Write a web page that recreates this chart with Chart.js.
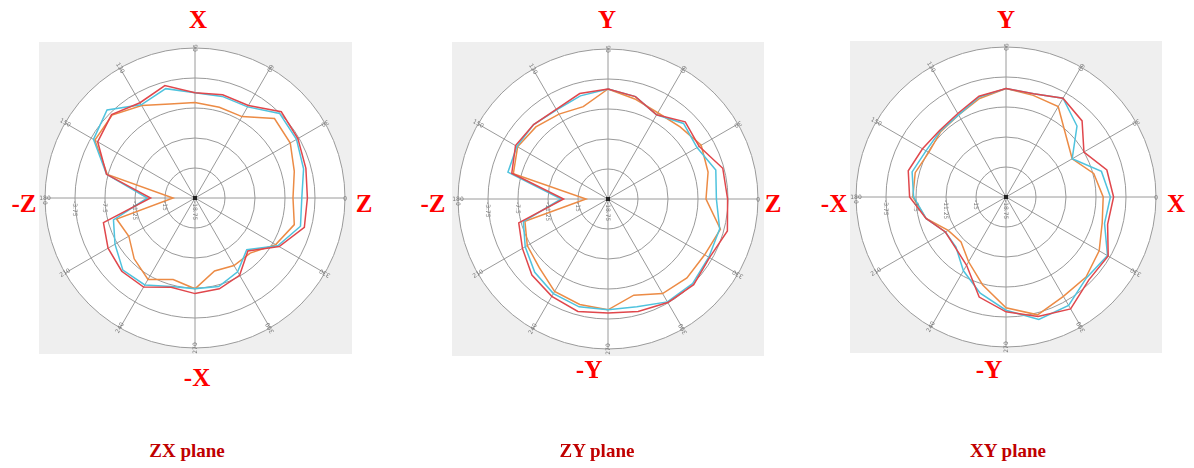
<!DOCTYPE html>
<html>
<head>
<meta charset="utf-8">
<title>Polar planes</title>
<script src="https://cdn.jsdelivr.net/npm/chart.js@4.4.1/dist/chart.umd.min.js"></script>
<style>
    body { margin: 0; background: #fff; width: 1194px; height: 468px; position: relative; overflow: hidden; }
    canvas { position: absolute; background: #efefef; }
    .ax { position: absolute; color: #ff0000; font: bold 25px "Liberation Serif", "DejaVu Serif", serif; line-height: 1; transform: translate(-50%, -50%); white-space: nowrap; }
    .title { position: absolute; top: 440px; color: #c00000; font: bold 19px "Liberation Serif", "DejaVu Serif", serif; transform: translateX(-50%); white-space: nowrap; }
</style>
</head>
<body>

<canvas id="zx" width="313" height="312" style="left:39px; top:42px;"></canvas>
<canvas id="zy" width="312" height="314" style="left:452px; top:42px;"></canvas>
<canvas id="xy" width="312" height="312" style="left:850px; top:41px;"></canvas>

<div class="ax" style="left:198px; top:19px;">X</div>
<div class="ax" style="left:24px; top:203px;">-Z</div>
<div class="ax" style="left:364px; top:203px;">Z</div>
<div class="ax" style="left:197px; top:377px;">-X</div>

<div class="ax" style="left:607px; top:19px;">Y</div>
<div class="ax" style="left:433px; top:203px;">-Z</div>
<div class="ax" style="left:773px; top:203px;">Z</div>
<div class="ax" style="left:589px; top:369px;">-Y</div>

<div class="ax" style="left:1006px; top:19px;">Y</div>
<div class="ax" style="left:834px; top:203px;">-X</div>
<div class="ax" style="left:1176px; top:203px;">X</div>
<div class="ax" style="left:989px; top:369px;">-Y</div>

<div class="title" style="left:187px;">ZX plane</div>
<div class="title" style="left:597px;">ZY plane</div>
<div class="title" style="left:1008px;">XY plane</div>

<script>
// angle of each spoke, clockwise from the top (15 degree steps)
const angleLabels = ['90', '75', '60', '45', '30', '15', '0', '345', '330', '315', '300', '285',
                     '270', '255', '240', '225', '210', '195', '180', '165', '150', '135', '120', '105'];

// radial scale (dB)
const rMin = -18.75;
const rMax = 0;
const rStep = 3.75;

// ZX plane
const zxRed    = [-5.6, -5.4, -5.4, -3.5, -3.9, -4.4, -4.7, -4.6, -6.6, -9.4, -7.6, -7.0,
                  -6.8, -7.2, -5.9, -5.8, -6.2, -6.9, -13.2, -7.3, -4.7, -4.0, -5.0, -4.2];
const zxBlue   = [-5.6, -5.6, -5.6, -3.8, -4.1, -4.7, -5.4, -5.1, -6.8, -9.6, -8.1, -7.3,
                  -7.4, -7.3, -6.2, -6.0, -7.2, -8.2, -12.8, -7.3, -4.1, -3.2, -5.3, -4.6];
const zxOrange = [-6.8, -7.0, -7.0, -4.7, -5.0, -5.9, -6.5, -5.9, -7.1, -9.0, -9.0, -9.3,
                  -7.4, -8.2, -7.0, -8.0, -9.2, -8.6, -16.0, -7.4, -4.3, -4.1, -5.4, -6.6];

// ZY plane
const zyRed    = [-5.0, -5.5, -6.6, -5.1, -5.6, -3.9, -3.8, -3.3, -4.1, -3.6, -3.8, -4.2,
                  -4.5, -4.2, -4.7, -5.3, -6.4, -7.2, -13.2, -6.3, -5.4, -5.6, -5.8, -5.1];
const zyBlue   = [-5.0, -5.5, -6.6, -5.4, -5.9, -4.8, -5.2, -4.3, -4.2, -3.8, -3.9, -4.8,
                  -4.9, -4.8, -5.1, -5.8, -6.8, -7.8, -12.9, -5.8, -5.6, -5.6, -5.9, -5.4];
const zyOrange = [-5.0, -5.8, -6.3, -6.0, -5.3, -5.8, -6.5, -4.2, -4.8, -4.8, -5.1, -6.3,
                  -4.9, -5.1, -5.4, -6.6, -7.1, -8.0, -16.0, -6.5, -5.7, -6.0, -6.5, -6.8];

// XY plane
const xyRed    = [-5.2, -5.4, -4.5, -5.3, -7.5, -5.7, -5.3, -5.6, -4.0, -4.1, -2.6, -3.3,
                  -4.4, -5.8, -8.9, -9.8, -10.0, -8.4, -6.7, -6.1, -6.7, -7.0, -6.7, -5.7];
const xyBlue   = [-5.2, -5.4, -4.5, -6.2, -9.2, -6.4, -5.7, -6.0, -4.1, -4.5, -3.1, -2.9,
                  -4.6, -6.3, -8.1, -9.9, -10.0, -8.4, -7.2, -6.6, -7.2, -7.1, -6.9, -5.8];
const xyOrange = [-5.2, -5.6, -5.7, -8.1, -9.2, -7.4, -6.6, -6.3, -5.3, -4.6, -4.4, -3.5,
                  -4.9, -7.4, -9.4, -10.8, -10.4, -8.4, -7.1, -7.0, -7.6, -7.2, -6.9, -6.0];

const red = '#e0474c';
const blue = '#4fc3de';
const orange = '#ec8b45';

// small rotated labels like in the original plots
const axisText = {
    id: 'axisText',
    afterDraw(chart) {
        const scale = chart.scales.r;
        const ctx = chart.ctx;
        ctx.save();
        ctx.fillStyle = '#777';
        ctx.font = '6px "DejaVu Sans"';
        ctx.textBaseline = 'middle';

        // ring values along the left spoke
        scale.ticks.forEach((tick) => {
            const d = scale.getDistanceFromCenterForValue(tick.value);
            ctx.save();
            ctx.translate(scale.xCenter - d, scale.yCenter + 3);
            ctx.rotate(Math.PI / 2);
            ctx.textAlign = 'left';
            ctx.fillText(String(tick.value), 0, 0);
            ctx.restore();
        });

        // spoke angles sitting on the outer ring
        angleLabels.forEach((label, i) => {
            if (i % 2) return;
            const p = scale.getPointPosition(i, scale.drawingArea);
            ctx.save();
            ctx.translate(p.x, p.y);
            ctx.rotate(scale.getIndexAngle(i) + Math.PI / 2);
            ctx.textAlign = 'center';
            ctx.fillText(label, 0, 0);
            ctx.restore();
        });

        ctx.fillStyle = '#222';
        ctx.fillRect(scale.xCenter - 2, scale.yCenter - 2, 4, 4);
        ctx.restore();
    }
};

function line(data, color) {
    return {
        data: data,
        borderColor: color,
        borderWidth: 1.5,
        backgroundColor: 'transparent',
        fill: false,
        pointRadius: 0,
        tension: 0
    };
}

function polar(id, redData, blueData, orangeData) {
    return new Chart(document.getElementById(id), {
        type: 'radar',
        data: {
            labels: angleLabels,
            datasets: [
                line(redData, red),
                line(blueData, blue),
                line(orangeData, orange)
            ]
        },
        options: {
            responsive: false,
            animation: false,
            layout: { padding: 6 },
            plugins: {
                legend: { display: false },
                tooltip: { enabled: false }
            },
            scales: {
                r: {
                    min: rMin,
                    max: rMax,
                    backgroundColor: '#ffffff',
                    ticks: { stepSize: rStep, display: false },
                    grid: { circular: true, color: '#9a9a9a', lineWidth: 1 },
                    angleLines: {
                        color: '#9a9a9a',
                        lineWidth: (ctx) => ctx.index % 2 ? 0 : 1
                    },
                    pointLabels: { display: false }
                }
            }
        },
        plugins: [axisText]
    });
}

polar('zx', zxRed, zxBlue, zxOrange);
polar('zy', zyRed, zyBlue, zyOrange);
polar('xy', xyRed, xyBlue, xyOrange);
</script>
</body>
</html>
